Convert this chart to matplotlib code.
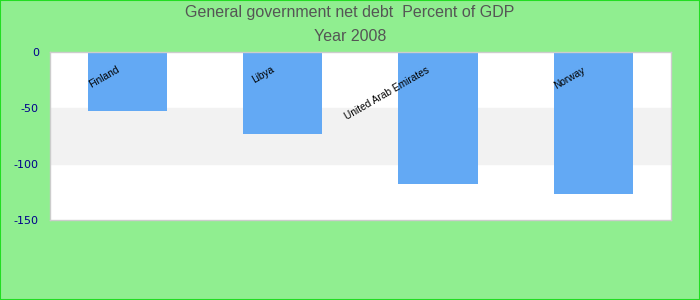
import matplotlib

matplotlib.use("Agg")
import matplotlib.pyplot as plt
from matplotlib.patches import Rectangle

# Data
countries = ["Finland", "Libya", "United Arab Emirates", "Norway"]
net_debt = [-52.6, -73.4, -117.9, -126.8]
yticks = [0, -50, -100, -150]

BG = "#90ee90"
BAR = "#63a9f4"

fig = plt.figure(figsize=(7, 3), dpi=100, facecolor=BG)
fig.patches.append(Rectangle((0, 0), 1, 1, transform=fig.transFigure, fill=False,
                             edgecolor="#22dd22", linewidth=1.5))
ax = fig.add_axes([0.0714, 0.267, 0.887, 0.561])
ax.set_facecolor("white")

# alternating band
ax.axhspan(-100, -50, color="#f2f2f2", zorder=0)

x = range(len(countries))
ax.bar(x, net_debt, width=0.51, color=BAR, zorder=2)

for i, name in enumerate(countries):
    ax.text(i - 0.058, -15.5, name, rotation=30, rotation_mode="anchor",
            ha="right", va="center", fontsize=7.3, family="Liberation Sans",
            color="black", zorder=3)

ax.set_xlim(-0.5, len(countries) - 0.5)
ax.set_ylim(-150, 0)
ax.set_xticks([])
ax.set_yticks(yticks)
ax.set_yticklabels([str(t) for t in yticks])
ax.tick_params(axis="y", length=0, labelsize=8, labelcolor="#00008b", pad=8)
for s in ax.spines.values():
    s.set_color("#cccccc")
    s.set_linewidth(1)

fig.text(0.5, 0.942, "General government net debt  Percent of GDP", ha="center",
         va="baseline", fontsize=11.5, color="#555555", family="Liberation Sans")
fig.text(0.5, 0.863, "Year 2008", ha="center", va="baseline", fontsize=11.5,
         color="#555555", family="Liberation Sans")

fig.savefig("out.png", dpi=100, facecolor=BG)
